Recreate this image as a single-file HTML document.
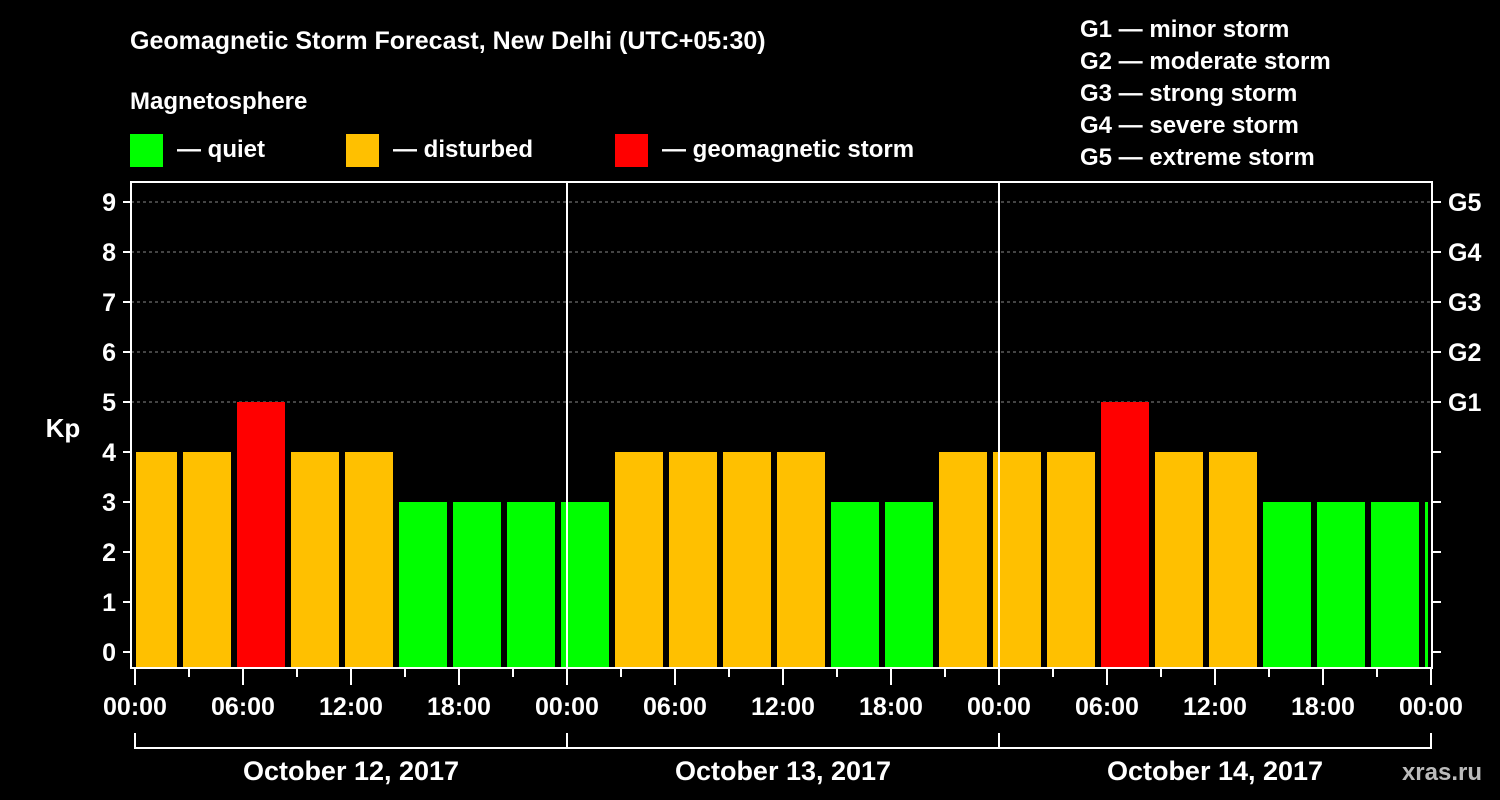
<!DOCTYPE html>
<html><head><meta charset="utf-8"><style>
body{margin:0;background:#000;}
svg{display:block;font-family:"Liberation Sans",Arial,sans-serif;font-weight:bold;}
</style></head><body>
<svg id="chart" width="1500" height="800" viewBox="0 0 1500 800">
<text x="130" y="49" fill="#fff" font-size="25">Geomagnetic Storm Forecast, New Delhi (UTC+05:30)</text>
<text x="130" y="109" fill="#fff" font-size="24">Magnetosphere</text>
<g><rect x="130" y="134" width="33" height="33" fill="#00ff00"/><text x="177" y="157" fill="#fff" font-size="24">— quiet</text></g>
<g><rect x="346" y="134" width="33" height="33" fill="#ffc000"/><text x="393" y="157" fill="#fff" font-size="24">— disturbed</text></g>
<g><rect x="615" y="134" width="33" height="33" fill="#ff0000"/><text x="662" y="157" fill="#fff" font-size="24">— geomagnetic storm</text></g>
<g fill="#fff" font-size="24">
<text x="1080" y="37">G1 — minor storm</text><text x="1080" y="69">G2 — moderate storm</text><text x="1080" y="101">G3 — strong storm</text><text x="1080" y="133">G4 — severe storm</text><text x="1080" y="165">G5 — extreme storm</text></g>
<g id="plot"></g>
<text x="63" y="437" fill="#fff" font-size="26" text-anchor="middle">Kp</text>
<text x="1482" y="780" fill="#bbb" font-size="24" text-anchor="end">xras.ru</text>
</svg>
<script>
const kpValues=[4,4,5,4,4,3,3,3,3, 4,4,4,4,3,3,4,4,4, 5,4,4,3,3,3,3];
const yTicks=[0,1,2,3,4,5,6,7,8,9];
const gLabels=["G1","G2","G3","G4","G5"];
const xTickLabels=["00:00","06:00","12:00","18:00","00:00","06:00","12:00","18:00","00:00","06:00","12:00","18:00","00:00"];
const dayLabels=["October 12, 2017","October 13, 2017","October 14, 2017"];
const NS="http://www.w3.org/2000/svg",g=document.getElementById('plot');
const X0=135,DAY=432,hx=h=>X0+h*DAY/24;
const yk=v=>652-v*50;
function mk(t,a,p){const e=document.createElementNS(NS,t);for(const k in a)e.setAttribute(k,a[k]);(p||g).appendChild(e);return e;}
const L=131,R=1432,T=182,B=668;
// gridlines
yTicks.forEach(v=>{if(v>=5){const e=mk('line',{x1:L,x2:R,y1:yk(v),y2:yk(v),stroke:'#888','stroke-dasharray':'3,3'});

}});
// bars
kpValues.forEach((v,i)=>{const xc=hx(i*3+0.5*3-0.5);let x1=xc-24,x2=xc+24;x1=Math.max(x1,136);x2=Math.min(x2,1428);
const c=v>=5?'#ff0000':v>=4?'#ffc000':'#00ff00';
const r=mk('rect',{x:x1,y:yk(v),width:x2-x1,height:B-yk(v),fill:c});

});
// day separators
[1,2].forEach(d=>{const e=mk('line',{x1:X0+d*DAY,x2:X0+d*DAY,y1:T,y2:B,stroke:'#fff','stroke-width':2});

});
// frame
const f=mk('rect',{x:L,y:T,width:R-L,height:B-T,fill:'none',stroke:'#fff','stroke-width':2});


// y ticks
yTicks.forEach(v=>{mk('line',{x1:L-8,x2:L,y1:yk(v),y2:yk(v),stroke:'#fff','stroke-width':2});
mk('line',{x1:R,x2:R+9,y1:yk(v),y2:yk(v),stroke:'#fff','stroke-width':2});
const t=mk('text',{x:116,y:yk(v)+9,fill:'#fff','font-size':25,'text-anchor':'end'});t.textContent=v;

});
gLabels.forEach((s,i)=>{const t=mk('text',{x:1448,y:yk(5+i)+9,fill:'#fff','font-size':25});t.textContent=s;

});
// x ticks
for(let h=0;h<=72;h+=3){const x=hx(h);mk('line',{x1:x,x2:x,y1:B,y2:h%6?677:685,stroke:'#fff','stroke-width':2});}
xTickLabels.forEach((s,i)=>{const t=mk('text',{x:hx(i*6),y:715,fill:'#fff','font-size':25,'text-anchor':'middle'});t.textContent=s;

});
// date bracket
mk('line',{x1:X0,x2:X0+3*DAY,y1:748,y2:748,stroke:'#fff','stroke-width':2});
for(let d=0;d<=3;d++)mk('line',{x1:X0+d*DAY,x2:X0+d*DAY,y1:733,y2:749,stroke:'#fff','stroke-width':2});
dayLabels.forEach((s,i)=>{const t=mk('text',{x:X0+i*DAY+DAY/2,y:780,fill:'#fff','font-size':27,'text-anchor':'middle'});t.textContent=s;

});
</script>
</body></html>
